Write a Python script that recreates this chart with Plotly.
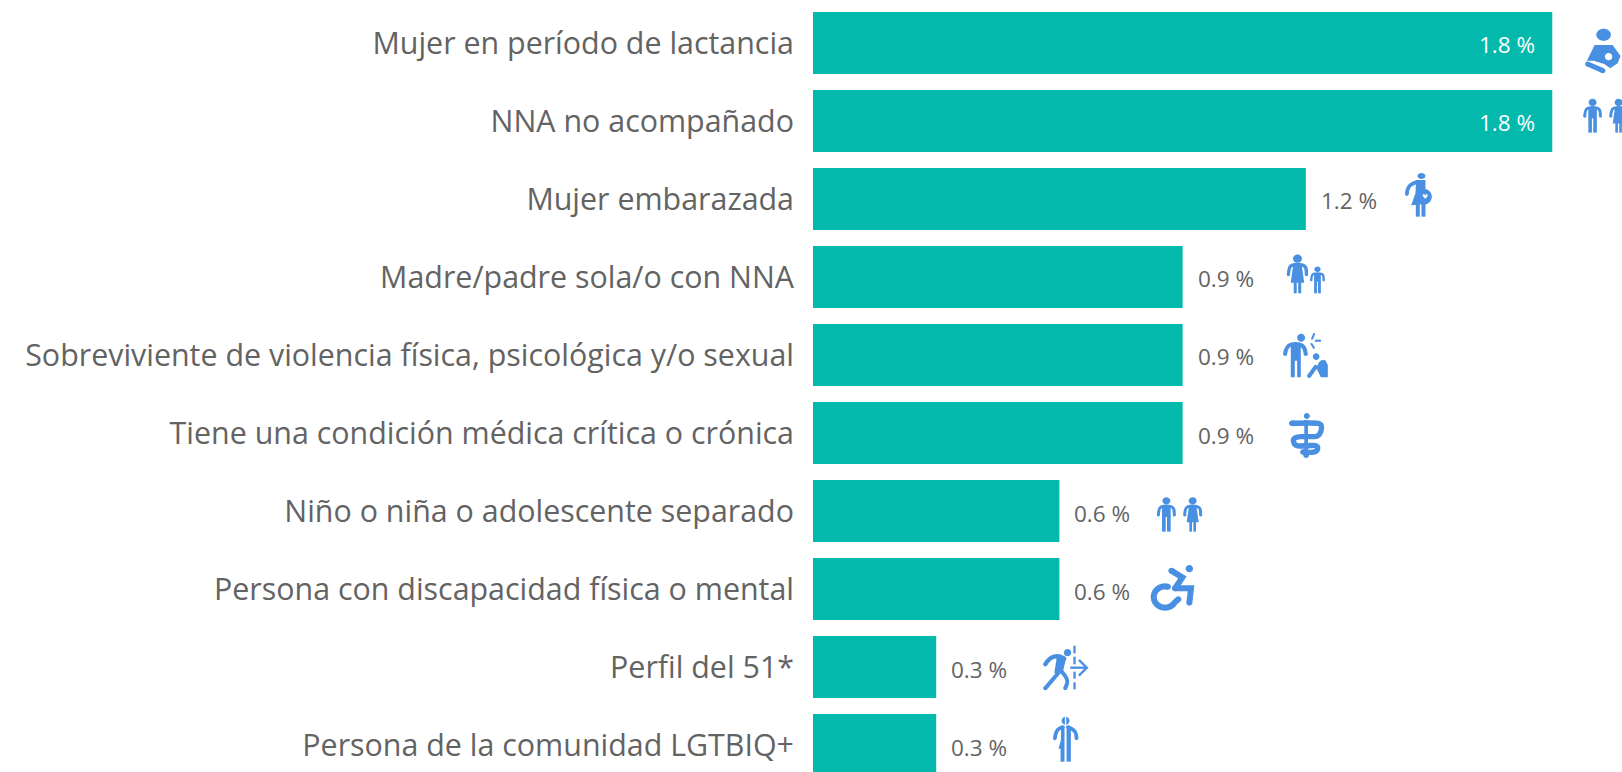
import math
import plotly.graph_objects as go

categories = [
    "Mujer en período de lactancia",
    "NNA no acompañado",
    "Mujer embarazada",
    "Madre/padre sola/o con NNA",
    "Sobreviviente de violencia física, psicológica y/o sexual",
    "Tiene una condición médica crítica o crónica",
    "Niño o niña o adolescente separado",
    "Persona con discapacidad física o mental",
    "Perfil del 51*",
    "Persona de la comunidad LGTBIQ+",
]
values = [1.8, 1.8, 1.2, 0.9, 0.9, 0.9, 0.6, 0.6, 0.3, 0.3]
value_labels = ["1.8 %", "1.8 %", "1.2 %", "0.9 %", "0.9 %", "0.9 %", "0.6 %", "0.6 %", "0.3 %", "0.3 %"]

BAR = "#02B9AC"
TEXT = "#636363"
ICON = "#4A90E2"
WHITE = "#FFFFFF"
W, H = 1622, 772
FONT = "Open Sans"


# ---- pictogram drawing: parts are given in 3x units, converted to pixel paths around a data anchor
class Icon:
    def __init__(self, cat, val, ox, oy):
        self.cat, self.val, self.ox, self.oy = cat, val, ox, oy
        self.shapes = []

    def pt(self, x, y):
        return f"{self.ox + x / 3:.2f},{-(self.oy + y / 3):.2f}"

    def _add(self, path, fill=None, width=0, color=ICON):
        s = dict(type="path", path=path, xref="x", yref="y", xsizemode="pixel", ysizemode="pixel",
                 xanchor=self.val, yanchor=self.cat, layer="above")
        if fill:
            s.update(fillcolor=fill, line=dict(width=0))
        else:
            s.update(fillcolor="rgba(0,0,0,0)", line=dict(color=color, width=width))
        self.shapes.append(s)

    def ell(self, cx, cy, rx, ry=None, color=ICON):
        ry = rx if ry is None else ry
        k = 0.5523
        p = self.pt
        path = (f"M{p(cx - rx, cy)}C{p(cx - rx, cy - k * ry)} {p(cx - k * rx, cy - ry)} {p(cx, cy - ry)}"
                f"C{p(cx + k * rx, cy - ry)} {p(cx + rx, cy - k * ry)} {p(cx + rx, cy)}"
                f"C{p(cx + rx, cy + k * ry)} {p(cx + k * rx, cy + ry)} {p(cx, cy + ry)}"
                f"C{p(cx - k * rx, cy + ry)} {p(cx - rx, cy + k * ry)} {p(cx - rx, cy)}Z")
        self._add(path, fill=color)

    def poly(self, pts, color=ICON):
        self._add("M" + "L".join(self.pt(*q) for q in pts) + "Z", fill=color)

    def line(self, pts, w, color=ICON, smooth=False, cap=True):
        p = self.pt
        if smooth and len(pts) > 2:
            path = "M" + p(*pts[0])
            for i in range(1, len(pts) - 1):
                mx, my = (pts[i][0] + pts[i + 1][0]) / 2, (pts[i][1] + pts[i + 1][1]) / 2
                path += f"Q{p(*pts[i])} {p(mx, my)}"
            path += "L" + p(*pts[-1])
        else:
            path = "M" + "L".join(p(*q) for q in pts)
        self._add(path, width=w / 3, color=color)
        if cap:
            self.ell(pts[0][0], pts[0][1], w / 2, color=color)
            self.ell(pts[-1][0], pts[-1][1], w / 2, color=color)

    def person(self, cx, top, feet, girl=False):
        s = (feet - top) / 104
        self.ell(cx, top + 11.5 * s, 12 * s, 11 * s)
        self.line([(cx - 24 * s, top + 54 * s), (cx - 23 * s, top + 32 * s), (cx - 8 * s, top + 27 * s),
                   (cx + 8 * s, top + 27 * s), (cx + 23 * s, top + 32 * s), (cx + 24 * s, top + 54 * s)],
                  9 * s, smooth=True)
        if girl:
            self.poly([(cx - 11 * s, top + 26 * s), (cx + 11 * s, top + 26 * s), (cx + 18 * s, top + 76 * s),
                       (cx - 18 * s, top + 76 * s)])
            self.poly([(cx - 10 * s, top + 74 * s), (cx - 2 * s, top + 74 * s), (cx - 2 * s, feet), (cx - 10 * s, feet)])
            self.poly([(cx + 2 * s, top + 74 * s), (cx + 10 * s, top + 74 * s), (cx + 10 * s, feet), (cx + 2 * s, feet)])
        else:
            self.poly([(cx - 13 * s, top + 26 * s), (cx + 13 * s, top + 26 * s), (cx + 13 * s, top + 60 * s),
                       (cx - 13 * s, top + 60 * s)])
            self.poly([(cx - 13 * s, top + 58 * s), (cx - 2 * s, top + 58 * s), (cx - 2 * s, feet), (cx - 13 * s, feet)])
            self.poly([(cx + 2 * s, top + 58 * s), (cx + 13 * s, top + 58 * s), (cx + 13 * s, feet), (cx + 2 * s, feet)])


icons = []

# nursing mother
ic = Icon(categories[0], values[0], -172, -43)
ic.ell(670, 104, 22, 18)
ic.poly([(643, 135), (697, 135), (721, 168), (712, 190), (690, 205), (672, 192), (640, 182), (620, 182)])
ic.line([(622, 192), (668, 212)], 15)
ic.ell(685, 170, 11, color=WHITE)
icons.append(ic)

# boy and girl, unaccompanied
ic = Icon(categories[1], values[1], -172, -121)
ic.person(637, 296, 398)
ic.person(715, 296, 398, girl=True)
icons.append(ic)

# pregnant woman
ic = Icon(categories[2], values[2], 74.3, -199)
ic.ell(124, 528, 12, 9)
ic.line([(80, 582), (82, 558), (110, 546)], 11, smooth=True)
ic.poly([(108, 540), (136, 540), (136, 565), (142, 612), (93, 616), (106, 580)])
ic.ell(132, 590, 23)
ic.poly([(107, 612), (119, 612), (119, 650), (107, 650)])
ic.poly([(124, 612), (136, 612), (136, 650), (124, 650)])
ic.ell(131, 586, 3.5, color=WHITE)
ic.ell(139, 586, 3.5, color=WHITE)
ic.poly([(127.5, 588), (142.5, 588), (135, 596)], color=WHITE)
icons.append(ic)

# mother and child
ic = Icon(categories[3], values[3], -32.5, -37)
ic.person(442, 43, 160, girl=True)
ic.person(502, 79, 160)
icons.append(ic)

# violence survivor
ic = Icon(categories[4], values[4], -32.5, -115)
ic.ell(453, 293, 12)
ic.line([(405, 342), (408, 318), (437, 310), (462, 318), (467, 342)], 12, smooth=True)
ic.poly([(422, 312), (452, 312), (452, 412), (441, 412), (441, 362), (434, 362), (434, 412), (422, 412)])
ic.line([(492, 282), (486, 296)], 6)
ic.line([(497, 302), (510, 302)], 6)
ic.line([(484, 312), (491, 323)], 6)
ic.ell(498, 350, 10)
ic.poly([(507, 366), (515, 360), (526, 361), (533, 375), (533, 412), (512, 412), (499, 385)])
ic.line([(477, 408), (497, 380)], 12)
icons.append(ic)

# serpent and staff
ic = Icon(categories[5], values[5], -32.5, -193)
ic.ell(470, 528, 9)
ic.line([(468, 540), (468, 645)], 11, cap=False)
ic.line([(425, 550), (490, 548), (518, 552), (508, 590), (480, 590), (428, 590), (432, 618), (465, 618),
         (505, 615), (500, 638), (458, 636)], 16, smooth=True)
ic.ell(429, 550, 12, 9)
ic.ell(468, 645, 9)
icons.append(ic)

# separated children
ic = Icon(categories[6], values[6], -129.4, -31)
ic.person(709, 51, 155)
ic.person(788, 51, 155, girl=True)
icons.append(ic)

# wheelchair user
ic = Icon(categories[7], values[7], -129.4, -109)
ic.ell(778, 266, 11)
arc = [(705 + 34 * math.cos(math.radians(a)), 351 + 32 * math.sin(math.radians(a))) for a in range(15, 291, 15)]
ic.line([(745, 358)] + arc[1:], 18)
ic.line([(724, 272), (757, 292), (735, 325)], 18)
ic.line([(735, 325), (783, 325), (778, 368)], 18)
icons.append(ic)

# person crossing a border
ic = Icon(categories[8], values[8], -6, -187)
ic.ell(412, 518, 11)
ic.line([(345, 553), (358, 533), (385, 527), (402, 536)], 13, smooth=True)
ic.line([(400, 535), (385, 578), (345, 625)], 12)
ic.line([(392, 572), (416, 598), (405, 625)], 12, smooth=True)
ic.poly([(380, 530), (408, 534), (397, 580), (372, 580)])
for a, b in [(497, 520), (530, 553), (575, 596), (607, 628)]:
    ic.line([(433, a), (433, b)], 7, cap=False)
ic.line([(420, 563), (468, 563)], 7, cap=False)
ic.line([(448, 542), (470, 563), (448, 585)], 7)
icons.append(ic)

# transgender person
ic = Icon(categories[9], values[9], -6, -265)
ic.ell(406, 722, 12)
ic.poly([(404, 708), (408, 708), (408, 736), (404, 736)], color=WHITE)
ic.line([(374, 775), (377, 750), (398, 741)], 11, smooth=True)
ic.line([(413, 741), (436, 750), (439, 775)], 11, smooth=True)
ic.poly([(393, 740), (403, 740), (403, 845), (391, 845), (391, 806), (385, 806), (392, 780)])
ic.poly([(409, 740), (422, 740), (422, 845), (409, 845)])
icons.append(ic)

fig = go.Figure(go.Bar(
    y=categories, x=values, orientation="h", marker=dict(color=BAR, line=dict(width=0)), hoverinfo="skip",
))

annotations = []
for c, v, t in zip(categories, values, value_labels):
    inside = v == max(values)
    annotations.append(dict(
        x=v, y=c, xref="x", yref="y", text=t, showarrow=False, yshift=-2,
        xanchor="right" if inside else "left", xshift=-15 if inside else 13,
        font=dict(family=FONT, size=22.5, color=WHITE if inside else TEXT),
    ))

fig.update_layout(
    width=W, height=H, margin=dict(l=0, r=0, t=0, b=0), autosize=False,
    paper_bgcolor="white", plot_bgcolor="white", showlegend=False, bargap=0.205,
    annotations=annotations,
    shapes=[s for ic in icons for s in ic.shapes],
    xaxis=dict(domain=[813 / W, 1], range=[0, 1.9698], visible=False, fixedrange=True),
    yaxis=dict(
        type="category", categoryorder="array", categoryarray=categories,
        range=[9.346, -0.551], showgrid=False, zeroline=False, showline=False,
        ticks="", ticklabelstandoff=18, fixedrange=True, automargin=False,
        tickfont=dict(family=FONT, size=30.4, color=TEXT),
    ),
)

fig.write_html("out.html", config=dict(displayModeBar=False),
               post_script="document.documentElement.style.overflow='hidden';document.body.style.margin='0';document.body.style.height='772px';document.body.style.overflow='hidden';")
